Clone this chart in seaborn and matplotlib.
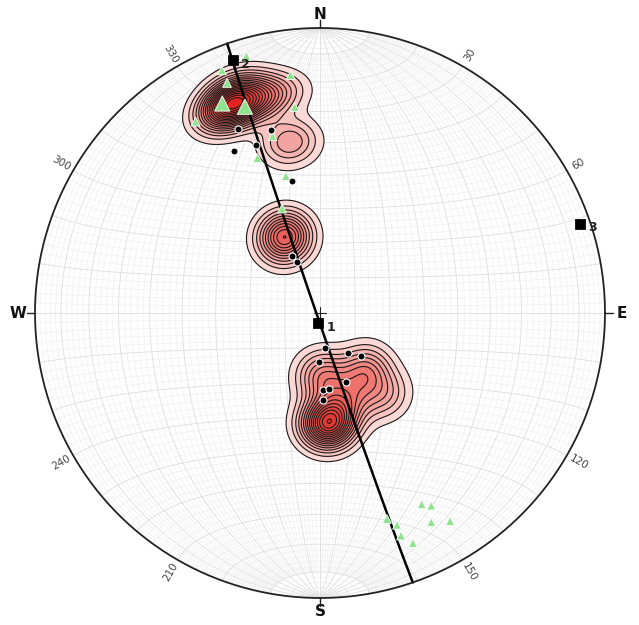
import numpy as np
import pandas as pd
import matplotlib
matplotlib.use('Agg')
import matplotlib.pyplot as plt
from matplotlib.collections import LineCollection
from matplotlib.colors import LinearSegmentedColormap
import seaborn as sns

# eigenvectors (trend / plunge)
eig_labels = ['1', '2', '3']
eig_trend = [191, 341, 71]
eig_plunge = [87, 7, 4]

# poles (black dots)
pole_trend = [336, 345, 339, 332, 348, 334, 336, 172, 145, 136, 181, 159, 178, 173, 178]
pole_plunge = [30, 34, 37, 36, 51, 72, 74, 80, 76, 73, 76, 69, 68, 68, 65]

# lineations (green triangles), big = highlighted
lin_trend = [344, 338, 353, 338, 335, 340, 327, 353, 345, 338, 346, 340,
             152, 150, 162, 160, 152, 148, 160, 158]
lin_plunge = [7, 9, 17, 14, 20, 24, 21, 28, 36, 41, 49, 58,
              25, 23, 25, 22, 18, 15, 18, 14]
lin_big = [0, 0, 0, 0, 1, 1, 0, 0, 0, 0, 0, 0,
           0, 0, 0, 0, 0, 0, 0, 0]

# data used for the density contours
dens_trend = [336, 344, 350, 340, 350, 335, 176, 178, 142, 164, 142]
dens_plunge = [22, 23, 22, 17, 39, 66, 58, 72, 69, 64, 60]
dens_count = [12, 5, 2, 3, 4, 9, 12, 5, 5, 4, 3]

# best fit girdle
girdle_dipdir = 251
girdle_dip = 89

deg_labels = [30, 60, 120, 150, 210, 240, 300, 330]
cardinals = ['N', 'E', 'S', 'W']


def vec(trend, plunge):
    t, p = np.radians(trend), np.radians(plunge)
    return np.cos(p) * np.sin(t), np.cos(p) * np.cos(t), np.sin(p)


def proj(e, n, d):
    # equal area, lower hemisphere
    d = np.asarray(d)
    s = np.sqrt(1 + np.abs(d))
    return e / s, n / s


def proj_line(trend, plunge):
    return proj(*vec(np.asarray(trend, float), np.asarray(plunge, float)))


sns.set_style('white')
fig = plt.figure(figsize=(6.39, 6.25), dpi=100)
ax = fig.add_axes([0, 0, 1, 1])
ax.axis('off')

# ---- net grid (Schmidt, 2 degree) ----
lam_full = np.radians(np.linspace(-90, 90, 181))
lam_cut = np.radians(np.linspace(-80, 80, 161))
minor, major = [], []
for a in range(-88, 90, 2):
    phi = np.radians(a)
    lam = lam_full if a % 10 == 0 else lam_cut
    # meridian
    e = np.cos(lam) * np.sin(phi)
    n = np.sin(lam)
    d = np.cos(lam) * np.cos(phi)
    x, y = proj(e, n, d)
    (major if a % 10 == 0 else minor).append(np.column_stack([x, y]))
    # parallel
    lam = lam_full
    e = np.cos(phi) * np.sin(lam)
    n = np.sin(phi) * np.ones_like(lam)
    d = np.cos(phi) * np.cos(lam)
    x, y = proj(e, n, d)
    (major if a % 10 == 0 else minor).append(np.column_stack([x, y]))
ax.add_collection(LineCollection(minor, colors='#f0f0f0', linewidths=0.5, zorder=1))
ax.add_collection(LineCollection(major, colors='#dedede', linewidths=0.6, zorder=1))

# ---- density contours ----
g = np.linspace(-1, 1, 401)
X, Y = np.meshgrid(g, g)
R2 = X ** 2 + Y ** 2
inside = R2 <= 1
R2c = np.clip(R2, 0, 1)
D = 1 - R2c
E = X * np.sqrt(2 - R2c)
N = Y * np.sqrt(2 - R2c)
k = 140.0
dens = np.zeros_like(X)
for t, p, c in zip(dens_trend, dens_plunge, dens_count):
    pe, pn, pd_ = vec(t, p)
    cosang = np.abs(E * pe + N * pn + D * pd_)
    dens += c * np.exp(k * (cosang - 1))
dens = np.where(inside, dens, 0)
dmax = dens.max()
levels = np.linspace(0.05, 1.0, 19) * dmax
cmap = LinearSegmentedColormap.from_list(
    'pinkred', [(0, '#fbe3e1'), (0.12, '#f6b7b3'), (0.35, '#f07b76'),
                (0.7, '#e8443f'), (1, '#e2201c')])
ax.contourf(X, Y, dens, levels=levels, cmap=cmap, zorder=2)
ax.contour(X, Y, dens, levels=levels[:-1], colors='#1a1a1a', linewidths=0.8, zorder=3)

# ---- girdle great circle ----
dd = np.radians(girdle_dipdir)
dp = np.radians(girdle_dip)
st = dd - np.pi / 2
lm = np.linspace(0, np.pi, 200)
ge = np.cos(lm) * np.sin(st) + np.sin(lm) * np.cos(dp) * np.sin(dd)
gn = np.cos(lm) * np.cos(st) + np.sin(lm) * np.cos(dp) * np.cos(dd)
gd = np.sin(lm) * np.sin(dp)
gx, gy = proj(ge, gn, gd)
sns.lineplot(x=gx, y=gy, sort=False, color='black', linewidth=1.8, ax=ax, zorder=4)

# ---- primitive circle, ticks, labels ----
th = np.linspace(0, 2 * np.pi, 400)
ax.plot(np.cos(th), np.sin(th), color='#222222', lw=1.3, zorder=5)
for lab, az in zip(cardinals, [0, 90, 180, 270]):
    a = np.radians(az)
    ax.plot([np.sin(a), 1.028 * np.sin(a)], [np.cos(a), 1.028 * np.cos(a)],
            color='#222222', lw=1.0, zorder=5)
    ax.text(1.058 * np.sin(a), 1.048 * np.cos(a), lab, ha='center', va='center',
            fontsize=11, fontweight='bold', color='#111111')
for az in deg_labels:
    a = np.radians(az)
    rot = np.degrees(np.arctan2(np.cos(a), np.sin(a)))
    if rot > 90:
        rot -= 180
    elif rot < -90:
        rot += 180
    ax.text(1.048 * np.sin(a), 1.048 * np.cos(a), str(az), rotation=rot,
            rotation_mode='anchor', ha='center', va='center', fontsize=7.5, color='#444444')

# centre cross
ax.plot([-0.02, 0.02], [0, 0], color='#222222', lw=0.8, zorder=5)
ax.plot([0, 0], [-0.02, 0.02], color='#222222', lw=0.8, zorder=5)

# ---- points ----
lx, ly = proj_line(lin_trend, lin_plunge)
lin_df = pd.DataFrame({'x': lx, 'y': ly, 'big': lin_big})
sns.scatterplot(data=lin_df, x='x', y='y', size='big', sizes={0: 40, 1: 120},
                marker='^', color='#8fe38c', edgecolor='white', linewidth=0.6,
                legend=False, ax=ax, zorder=6)

px, py = proj_line(pole_trend, pole_plunge)
pole_df = pd.DataFrame({'x': px, 'y': py})
sns.scatterplot(data=pole_df, x='x', y='y', marker='o', s=26, color='black',
                edgecolor='white', linewidth=0.8, legend=False, ax=ax, zorder=7)

ex, ey = proj_line(eig_trend, eig_plunge)
eig_df = pd.DataFrame({'x': ex, 'y': ey, 'label': eig_labels})
sns.scatterplot(data=eig_df, x='x', y='y', marker='s', s=48, color='black',
                edgecolor='black', legend=False, ax=ax, zorder=8)
for _, row in eig_df.iterrows():
    ax.annotate(row['label'], (row['x'], row['y']), xytext=(6, -3),
                textcoords='offset points', fontsize=9, fontweight='bold',
                color='#222222', ha='left', va='center', zorder=9)

ax.set_xlim(-320 / 285, 319 / 285)
ax.set_ylim(-312 / 285, 313 / 285)
fig.savefig('out.png', dpi=100)
